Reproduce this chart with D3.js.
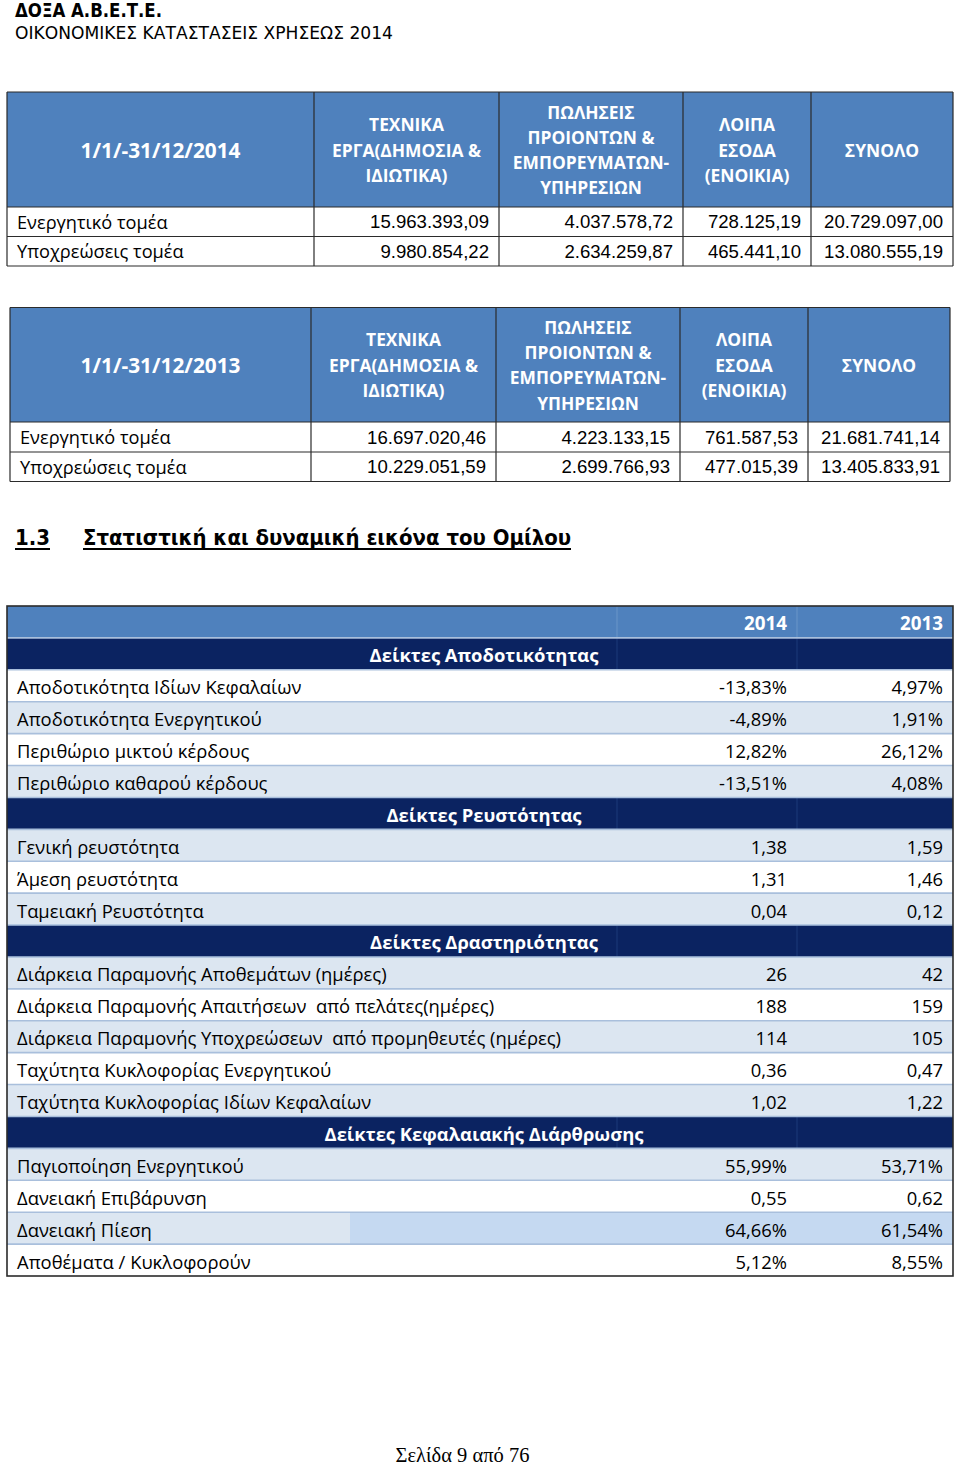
<!DOCTYPE html>
<html><head><meta charset="utf-8">
<script src="https://cdn.jsdelivr.net/npm/d3@7"></script>
<style>
html,body{margin:0;padding:0;background:#fff;}
svg{display:block;}
</style></head>
<body>
<svg id="page" width="960" height="1468"></svg>
<script>
// ---------------- DATA ----------------
const companyName = "ΔΟΞΑ Α.Β.Ε.Τ.Ε.";
const docTitle = "ΟΙΚΟΝΟΜΙΚΕΣ ΚΑΤΑΣΤΑΣΕΙΣ ΧΡΗΣΕΩΣ 2014";
const sectionNumber = "1.3";
const sectionTitle = "Στατιστική και δυναμική εικόνα του Ομίλου";
const footerText = "Σελίδα 9 από 76";

const segmentHeaders = [
  ["ΤΕΧΝΙΚΑ", "ΕΡΓΑ(ΔΗΜΟΣΙΑ &", "ΙΔΙΩΤΙΚΑ)"],
  ["ΠΩΛΗΣΕΙΣ", "ΠΡΟΙΟΝΤΩΝ &", "ΕΜΠΟΡΕΥΜΑΤΩΝ-", "ΥΠΗΡΕΣΙΩΝ"],
  ["ΛΟΙΠΑ", "ΕΣΟΔΑ", "(ΕΝΟΙΚΙΑ)"],
  ["ΣΥΝΟΛΟ"]
];
const segmentRows = ["Ενεργητικό τομέα", "Υποχρεώσεις τομέα"];
const periods = ["1/1/-31/12/2014", "1/1/-31/12/2013"];
const assets2014 = [15963393.09, 4037578.72, 728125.19, 20729097.00];
const liabilities2014 = [9980854.22, 2634259.87, 465441.10, 13080555.19];
const assets2013 = [16697020.46, 4223133.15, 761587.53, 21681741.14];
const liabilities2013 = [10229051.59, 2699766.93, 477015.39, 13405833.91];

const ratioYears = ["2014", "2013"];
const ratioGroups = ["Δείκτες Αποδοτικότητας", "Δείκτες Ρευστότητας", "Δείκτες Δραστηριότητας", "Δείκτες Κεφαλαιακής Διάρθρωσης"];
const ratioLabels = [
  "Αποδοτικότητα Ιδίων Κεφαλαίων", "Αποδοτικότητα Ενεργητικού", "Περιθώριο μικτού κέρδους", "Περιθώριο καθαρού κέρδους",
  "Γενική ρευστότητα", "Άμεση ρευστότητα", "Ταμειακή Ρευστότητα",
  "Διάρκεια Παραμονής Αποθεμάτων (ημέρες)", "Διάρκεια Παραμονής Απαιτήσεων  από πελάτες(ημέρες)",
  "Διάρκεια Παραμονής Υποχρεώσεων  από προμηθευτές (ημέρες)", "Ταχύτητα Κυκλοφορίας Ενεργητικού", "Ταχύτητα Κυκλοφορίας Ιδίων Κεφαλαίων",
  "Παγιοποίηση Ενεργητικού", "Δανειακή Επιβάρυνση", "Δανειακή Πίεση", "Αποθέματα / Κυκλοφορούν"
];
const ratioGroupOf = [0,0,0,0, 1,1,1, 2,2,2,2,2, 3,3,3,3];
const ratios2014 = [-13.83, -4.89, 12.82, -13.51, 1.38, 1.31, 0.04, 26, 188, 114, 0.36, 1.02, 55.99, 0.55, 64.66, 5.12];
const ratios2013 = [4.97, 1.91, 26.12, 4.08, 1.59, 1.46, 0.12, 42, 159, 105, 0.47, 1.22, 53.71, 0.62, 61.54, 8.55];
const ratioUnits = ["%","%","%","%", "x","x","x", "d","d","d","x","x", "%","x","%","%"];
const highlightedRatio = "Δανειακή Πίεση";

// ---------------- STYLE ----------------
const C = {
  headBlue: "#4f81bd", navy: "#0b2361", band: "#dce6f1", hilite: "#c5d9f1",
  sep: "#a9bfdc", border: "#2b2b2b", text: "#000"
};
const sansUI = "'Open Sans', 'Noto Sans', sans-serif";
const numFont = "'Liberation Sans', Arial, sans-serif";
const titleFont = "'DejaVu Sans', Verdana, sans-serif";

const loc = d3.formatLocale({decimal: ",", thousands: ".", grouping: [3], currency: ["", ""], minus: "-"});
const fmtMoney = loc.format(",.2f");
const fmt2 = loc.format(",.2f");
const fmtInt = loc.format("d");
function fmtRatio(v, u) {
  if (u === "%") return fmt2(v) + "%";
  if (u === "d") return fmtInt(v);
  return fmt2(v);
}

const svg = d3.select("#page");
svg.append("rect").attr("width", 960).attr("height", 1468).attr("fill", "#fff");

// ---------------- TITLES ----------------
svg.append("text").attr("x", 15).attr("y", 16.5)
  .attr("font-family", titleFont).attr("font-weight", "bold").attr("font-size", 19)
  .attr("textLength", 147).attr("lengthAdjust", "spacingAndGlyphs")
  .text(companyName);
svg.append("text").attr("x", 15).attr("y", 38.5)
  .attr("font-family", titleFont).attr("font-size", 18.5)
  .attr("textLength", 378).attr("lengthAdjust", "spacingAndGlyphs")
  .text(docTitle);

// ---------------- SEGMENT TABLES ----------------
function segmentTable(cfg) {
  const g = svg.append("g");
  const edges = cfg.edges;
  const rowsY = cfg.rowsY;
  const left = edges[0], right = edges[edges.length - 1];
  g.append("rect").attr("x", left).attr("y", rowsY[0]).attr("width", right - left)
    .attr("height", rowsY[1] - rowsY[0]).attr("fill", C.headBlue);
  const hc = (rowsY[0] + rowsY[1]) / 2;
  g.append("text").attr("x", (edges[0] + edges[1]) / 2).attr("y", hc)
    .attr("text-anchor", "middle").attr("dominant-baseline", "central")
    .attr("font-family", sansUI).attr("font-weight", "bold").attr("font-size", 20.8)
    .attr("fill", "#fff").text(cfg.period);
  segmentHeaders.forEach((lines, ci) => {
    const cx = (edges[ci + 1] + edges[ci + 2]) / 2;
    const t = g.append("text").attr("text-anchor", "middle")
      .attr("font-family", sansUI).attr("font-weight", "bold").attr("font-size", 17.4)
      .attr("fill", "#fff");
    lines.forEach((ln, li) => {
      t.append("tspan").attr("x", cx)
        .attr("y", hc + (li - (lines.length - 1) / 2) * 25.3)
        .attr("dominant-baseline", "central").text(ln);
    });
  });
  const rowData = [cfg.assets, cfg.liabilities];
  segmentRows.forEach((lbl, ri) => {
    const y0 = rowsY[ri + 1], y1 = rowsY[ri + 2], cy = (y0 + y1) / 2;
    g.append("text").attr("x", left + 10).attr("y", cy).attr("dominant-baseline", "central")
      .attr("font-family", sansUI).attr("font-size", 18.2).attr("fill", C.text).text(lbl);
    rowData[ri].forEach((v, ci) => {
      g.append("text").attr("x", edges[ci + 2] - 10).attr("y", cy)
        .attr("text-anchor", "end").attr("dominant-baseline", "central")
        .attr("font-family", numFont).attr("font-size", 18.6).attr("fill", C.text)
        .text(fmtMoney(v));
    });
  });
  rowsY.forEach(y => g.append("line").attr("x1", left).attr("x2", right).attr("y1", y).attr("y2", y)
    .attr("stroke", C.border).attr("stroke-width", 1.2));
  edges.forEach(x => g.append("line").attr("x1", x).attr("x2", x)
    .attr("y1", rowsY[0]).attr("y2", rowsY[rowsY.length - 1])
    .attr("stroke", C.border).attr("stroke-width", 1.2));
}

segmentTable({period: periods[0], assets: assets2014, liabilities: liabilities2014,
  edges: [7, 314, 499, 683, 811, 953], rowsY: [92, 207, 236.5, 266]});
segmentTable({period: periods[1], assets: assets2013, liabilities: liabilities2013,
  edges: [10, 311, 496, 680, 808, 950], rowsY: [307.5, 422, 452, 481.5]});

// ---------------- SECTION HEADING ----------------
const head = svg.append("g").attr("font-family", titleFont).attr("font-weight", "bold").attr("font-size", 21);
head.append("text").attr("x", 15).attr("y", 545).attr("textLength", 35).attr("lengthAdjust", "spacingAndGlyphs").text(sectionNumber);
head.append("text").attr("x", 83).attr("y", 545).attr("textLength", 488).attr("lengthAdjust", "spacingAndGlyphs").text(sectionTitle);
head.append("rect").attr("x", 15).attr("y", 548).attr("width", 35).attr("height", 2).attr("fill", "#000");
head.append("rect").attr("x", 83).attr("y", 548).attr("width", 488).attr("height", 2).attr("fill", "#000");

// ---------------- RATIO TABLE ----------------
const ratioRows = [{type: "head"}];
ratioGroups.forEach((gName, gi) => {
  ratioRows.push({type: "group", label: gName});
  ratioLabels.forEach((lbl, i) => {
    if (ratioGroupOf[i] === gi) ratioRows.push({type: "data", label: lbl, v14: ratios2014[i], v13: ratios2013[i], unit: ratioUnits[i]});
  });
});
ratioRows.forEach((r, i) => r.idx = i);

const tLeft = 7, tRight = 953, colA = 617, colB = 797;
const y = d3.scaleBand().domain(ratioRows.map(r => r.idx)).range([606, 1276]).paddingInner(0);
const t3 = svg.append("g");

const rowG = t3.selectAll("g.row").data(ratioRows).join("g").attr("class", "row")
  .attr("transform", d => `translate(0,${y(d.idx)})`);
const bh = y.bandwidth();

rowG.append("rect").attr("x", tLeft).attr("width", tRight - tLeft).attr("height", bh)
  .attr("fill", d => d.type === "head" ? C.headBlue : d.type === "group" ? C.navy : (d.idx % 2 ? C.band : "#fff"));
rowG.filter(d => d.label === highlightedRatio).append("rect")
  .attr("x", 350).attr("width", tRight - 350).attr("height", bh).attr("fill", C.hilite);

rowG.filter(d => d.type !== "data").selectAll("line.vd").data([colA, colB]).join("line")
  .attr("class", "vd").attr("x1", d => d).attr("x2", d => d).attr("y1", 0).attr("y2", bh)
  .attr("stroke", (d, i, n) => d3.select(n[i].parentNode).datum().type === "head" ? "#6b95c8" : "#1d3a7a")
  .attr("stroke-width", 1);

rowG.filter(d => d.idx > 0).append("line")
  .attr("x1", tLeft).attr("x2", tRight).attr("y1", 0).attr("y2", 0)
  .attr("stroke", C.sep).attr("stroke-width", 1.6);

rowG.filter(d => d.type === "head").selectAll("text.yr").data(ratioYears).join("text")
  .attr("class", "yr").attr("x", (d, i) => (i === 0 ? colB : tRight) - 10).attr("y", bh / 2 + 1)
  .attr("text-anchor", "end").attr("dominant-baseline", "central")
  .attr("font-family", sansUI).attr("font-weight", "bold").attr("font-size", 18.8).attr("fill", "#fff")
  .text(d => d);

rowG.filter(d => d.type === "group").append("text")
  .attr("x", (tLeft + tRight) / 2 + 4).attr("y", bh / 2 + 1)
  .attr("text-anchor", "middle").attr("dominant-baseline", "central")
  .attr("font-family", sansUI).attr("font-weight", "bold").attr("font-size", 18.4).attr("fill", "#fff")
  .text(d => d.label);

const dataG = rowG.filter(d => d.type === "data");
dataG.append("text").attr("x", tLeft + 10).attr("y", bh / 2 + 1).attr("dominant-baseline", "central")
  .attr("font-family", sansUI).attr("font-size", 18.4).attr("fill", C.text).attr("xml:space", "preserve")
  .text(d => d.label);
dataG.append("text").attr("x", colB - 10).attr("y", bh / 2 + 1).attr("text-anchor", "end").attr("dominant-baseline", "central")
  .attr("font-family", sansUI).attr("font-size", 18.4).attr("fill", C.text).text(d => fmtRatio(d.v14, d.unit));
dataG.append("text").attr("x", tRight - 10).attr("y", bh / 2 + 1).attr("text-anchor", "end").attr("dominant-baseline", "central")
  .attr("font-family", sansUI).attr("font-size", 18.4).attr("fill", C.text).text(d => fmtRatio(d.v13, d.unit));

t3.append("rect").attr("x", tLeft).attr("y", 606).attr("width", tRight - tLeft).attr("height", 1276 - 606)
  .attr("fill", "none").attr("stroke", C.border).attr("stroke-width", 1.6);

// ---------------- FOOTER ----------------
svg.append("text").attr("x", 462.5).attr("y", 1462).attr("text-anchor", "middle")
  .attr("font-family", "'Liberation Serif', 'Times New Roman', serif").attr("font-size", 20.5)
  .text(footerText);
</script>
</body></html>
